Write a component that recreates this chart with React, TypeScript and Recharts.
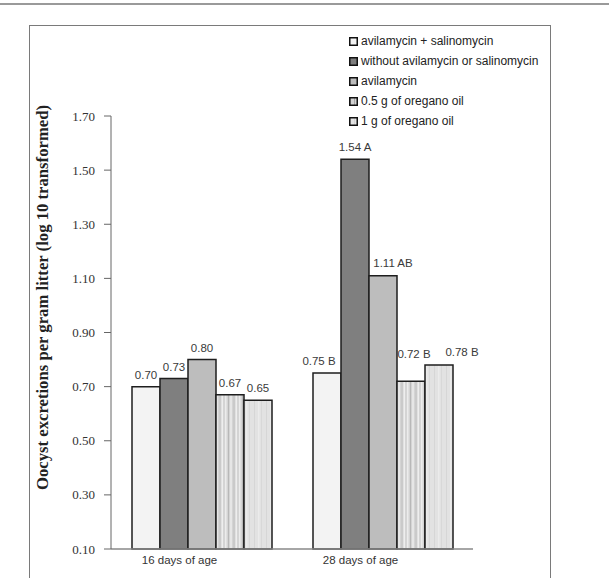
import React from 'react';
import { Bar, BarChart, LabelList, XAxis, YAxis, Label } from 'recharts';

const categories = ['16 days of age', '28 days of age'];

const seriesNames = [
    'avilamycin + salinomycin',
    'without avilamycin or salinomycin',
    'avilamycin',
    '0.5 g of oregano oil',
    '1 g of oregano oil',
];

// log10 oocysts per gram litter, one entry per age group
const avilSalino = [0.70, 0.75];
const withoutAdditives = [0.73, 1.54];
const avilamycin = [0.80, 1.11];
const oregano05 = [0.67, 0.72];
const oregano1 = [0.65, 0.78];

// significance letters per age group
const avilSalinoLetters = ['', 'B'];
const withoutAdditivesLetters = ['', 'A'];
const avilamycinLetters = ['', 'AB'];
const oregano05Letters = ['', 'B'];
const oregano1Letters = ['', 'B'];

const yTicks = [0.1, 0.3, 0.5, 0.7, 0.9, 1.1, 1.3, 1.5, 1.7];

const seriesValues = [avilSalino, withoutAdditives, avilamycin, oregano05, oregano1];
const seriesLetters = [avilSalinoLetters, withoutAdditivesLetters, avilamycinLetters, oregano05Letters, oregano1Letters];
const seriesFills = ['#f3f3f3', '#7f7f7f', '#bdbdbd', 'url(#stripeDense)', 'url(#stripeFaint)'];

// small nudges so labels in the crowded 28-day group don't collide
const labelNudge: Record<string, { dx: number; dy: number }> = {
    's0-1': { dx: -8, dy: 0 },
    's2-1': { dx: 10, dy: -1 },
    's3-1': { dx: 3, dy: -15 },
    's4-1': { dx: 23, dy: -1 },
};

const chartData = categories.map((cat, i) => {
    const row: Record<string, string | number> = { cat };
    seriesValues.forEach((vals, s) => {
        row[`s${s}`] = vals[i];
    });
    return row;
});

const sans = '"Liberation Sans", Arial, sans-serif';
const serif = '"Liberation Serif", "Times New Roman", serif';

const makeValueLabel = (s: number) => (props: any) => {
    const { x, y, width, index, value } = props;
    const letter = seriesLetters[s][index];
    const nudge = labelNudge[`s${s}-${index}`] || { dx: 0, dy: 0 };
    const text = Number(value).toFixed(2) + (letter ? ` ${letter}` : '');
    return (
        <text
            x={x + width / 2 + nudge.dx}
            y={y - 8 + nudge.dy}
            textAnchor="middle"
            fontFamily={sans}
            fontSize={11.5}
            fill="#3a3a3a"
        >
            {text}
        </text>
    );
};

const CategoryTick = (props: any) => {
    const { x, y, payload } = props;
    return (
        <text x={x - 22} y={y + 15} textAnchor="middle" fontFamily={sans} fontSize={11.5} fill="#333">
            {payload.value}
        </text>
    );
};

const AxisTitle = (props: any) => {
    const { viewBox } = props;
    const cx = viewBox.x - 3;
    const cy = viewBox.y + viewBox.height / 2 - 35;
    return (
        <text
            x={cx}
            y={cy}
            transform={`rotate(-90, ${cx}, ${cy})`}
            textAnchor="middle"
            fontFamily={serif}
            fontWeight="bold"
            fontSize={16.7}
            fill="#222"
        >
            Oocyst excretions per gram litter (log 10 transformed)
        </text>
    );
};

const Swatch: React.FC<{ index: number }> = ({ index }) => {
    const fill = seriesFills[index];
    return (
        <svg width={9} height={9} style={{ marginRight: 3, flexShrink: 0 }}>
            <defs>
                <pattern id={`lg${index}`} width={4} height={9} patternUnits="userSpaceOnUse">
                    <rect width={4} height={9} fill={index === 3 ? '#d2d2d2' : '#e4e4e4'} />
                    <rect x={1} width={1} height={9} fill={index === 3 ? '#a8a8a8' : '#d4d4d4'} />
                </pattern>
            </defs>
            <rect
                x={0.75}
                y={0.75}
                width={7.5}
                height={7.5}
                fill={fill.startsWith('url') ? `url(#lg${index})` : fill}
                stroke="#111"
                strokeWidth={1.5}
            />
        </svg>
    );
};

const App: React.FC = () => {
    return (
        <div style={{ position: 'absolute', left: 0, top: 0, width: 609, height: 578, overflow: 'hidden', background: '#fff' }}>
            {/* page rule and figure frame */}
            <div style={{ position: 'absolute', left: 0, top: 3, width: 609, height: 2, background: '#9a9a9a' }} />
            <div
                style={{
                    position: 'absolute',
                    left: 29,
                    top: 25,
                    width: 520,
                    height: 600,
                    border: '1.5px solid #7a7a7a',
                }}
            />

            <BarChart
                width={609}
                height={578}
                data={chartData}
                margin={{ top: 116, right: 136, bottom: 9, left: 51 }}
                barSize={28}
                barGap={0}
                style={{ position: 'absolute', left: 0, top: 0 }}
            >
                <defs>
                    <pattern id="stripeDense" width={14} height={10} patternUnits="userSpaceOnUse">
                        <rect width={14} height={10} fill="#d4d4d4" />
                        <rect x={1} width={1.5} height={10} fill="#ececec" />
                        <rect x={4} width={1} height={10} fill="#b8b8b8" />
                        <rect x={6} width={2} height={10} fill="#e6e6e6" />
                        <rect x={9.5} width={1} height={10} fill="#c0c0c0" />
                        <rect x={11.5} width={1.5} height={10} fill="#eeeeee" />
                    </pattern>
                    <pattern id="stripeFaint" width={12} height={10} patternUnits="userSpaceOnUse">
                        <rect width={12} height={10} fill="#e2e2e2" />
                        <rect x={2} width={1} height={10} fill="#d6d6d6" />
                        <rect x={6} width={1.5} height={10} fill="#ebebeb" />
                        <rect x={9} width={1} height={10} fill="#d8d8d8" />
                    </pattern>
                </defs>
                <XAxis
                    dataKey="cat"
                    height={20}
                    tickLine={false}
                    tickSize={0}
                    tickMargin={0}
                    tick={<CategoryTick />}
                    axisLine={{ stroke: '#888', strokeWidth: 1.5 }}
                />
                <YAxis
                    width={60}
                    domain={[0.1, 1.7]}
                    ticks={yTicks}
                    interval={0}
                    tickSize={7}
                    tickMargin={9}
                    tickFormatter={(v: number) => v.toFixed(2)}
                    tick={{ fontFamily: serif, fontSize: 13, fill: '#333' }}
                    tickLine={{ stroke: '#666' }}
                    axisLine={{ stroke: '#666' }}
                >
                    <Label content={<AxisTitle />} />
                </YAxis>
                {seriesNames.map((name, s) => (
                    <Bar
                        key={name}
                        dataKey={`s${s}`}
                        name={name}
                        fill={seriesFills[s]}
                        stroke="#1e1e1e"
                        strokeWidth={1.5}
                        isAnimationActive={false}
                    >
                        <LabelList dataKey={`s${s}`} content={makeValueLabel(s)} />
                    </Bar>
                ))}
            </BarChart>

            {/* legend */}
            <div style={{ position: 'absolute', left: 349, top: 31, fontFamily: sans, fontSize: 12, color: '#222' }}>
                {seriesNames.map((name, s) => (
                    <div key={name} style={{ display: 'flex', alignItems: 'center', height: 20, lineHeight: '20px' }}>
                        <Swatch index={s} />
                        <span>{name}</span>
                    </div>
                ))}
            </div>
        </div>
    );
};

export default App;
